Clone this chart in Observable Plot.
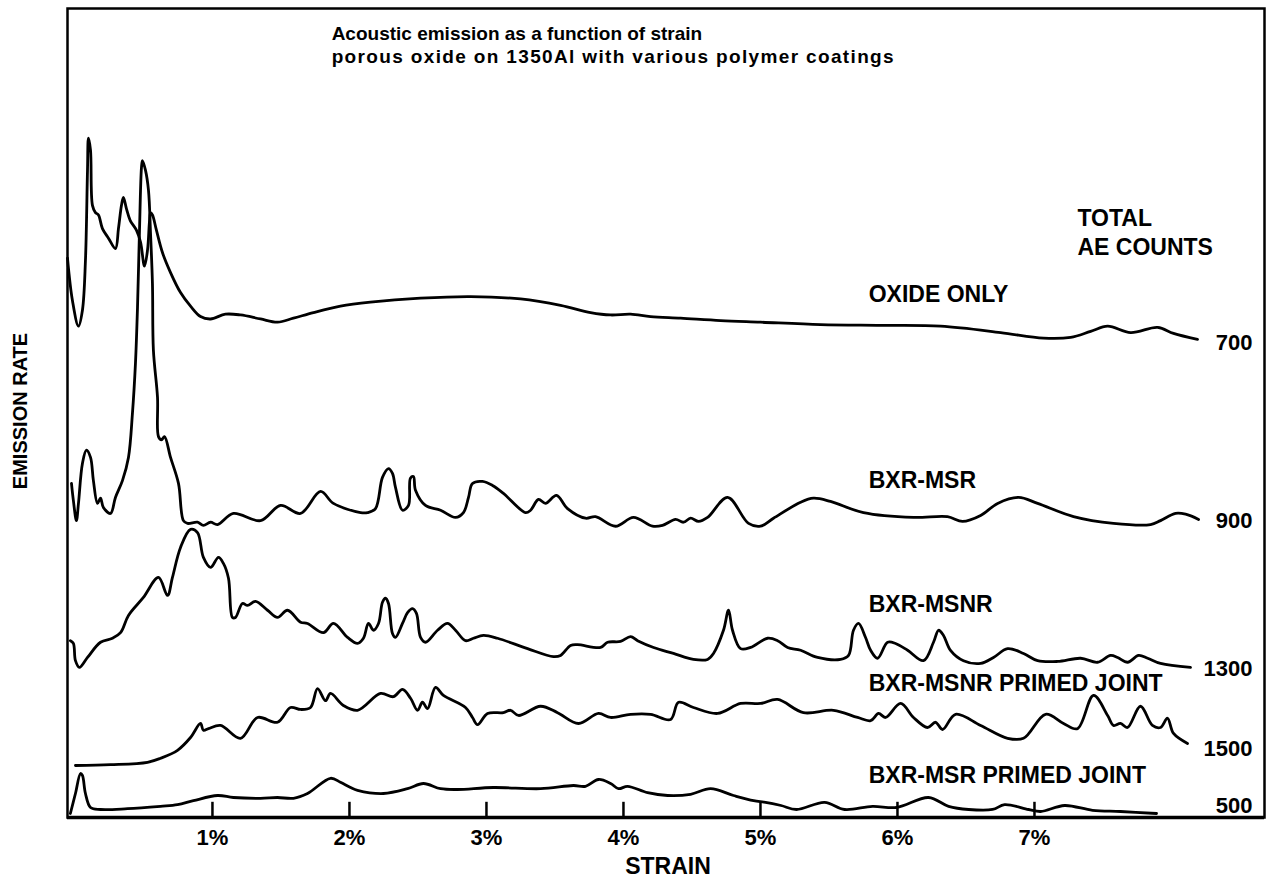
<!DOCTYPE html>
<html><head><meta charset="utf-8">
<script src="https://cdn.jsdelivr.net/npm/d3@7"></script>
<script src="https://cdn.jsdelivr.net/npm/@observablehq/plot@0.6"></script>
<style>body{margin:0;background:#fff}svg{display:block}</style>
</head><body><div id="chart"></div>
<script>
// Strain (%) ticks
const strainTicks = [1, 2, 3, 4, 5, 6, 7];

const titleLines = ["Acoustic emission as a function of strain", "porous oxide on 1350Al with various polymer coatings"];
const totalHeader = ["TOTAL", "AE COUNTS"];
const seriesNames = ["OXIDE ONLY", "BXR-MSR", "BXR-MSNR", "BXR-MSNR PRIMED JOINT", "BXR-MSR PRIMED JOINT"];
const totalCounts = [700, 900, 1300, 1500, 500];

// [strain %, emission rate (arbitrary, offset traces)]
const oxideOnly = [[-0.058,69.9],[-0.022,64.6],[0.022,61.4],[0.051,63.4],[0.073,69.6],[0.088,80.9],[0.095,84.9],[0.11,83.4],[0.124,76.5],[0.146,75.6],[0.168,75.3],[0.197,73.6],[0.241,72.4],[0.292,71.1],[0.314,73.6],[0.336,76.5],[0.35,77.5],[0.372,76.1],[0.40,74.6],[0.445,73.4],[0.475,71.9],[0.504,68.9],[0.526,70.9],[0.54,74.4],[0.548,75.6],[0.562,75.3],[0.591,73.4],[0.635,70.6],[0.694,68.1],[0.767,65.6],[0.84,63.9],[0.913,62.6],[0.986,62.3],[1.095,62.9],[1.205,62.8],[1.351,62.3],[1.475,61.9],[1.591,62.4],[1.737,63.1],[1.934,63.9],[2.153,64.4],[2.519,64.9],[2.884,65.1],[3.249,64.8],[3.541,64.0],[3.76,63.1],[3.906,62.8],[4.052,62.9],[4.198,62.6],[4.417,62.4],[4.709,62.1],[5.0,61.9],[5.439,61.6],[5.877,61.5],[6.315,61.4],[6.753,60.6],[7.066,59.9],[7.264,60.0],[7.41,60.75],[7.534,61.4],[7.702,60.6],[7.899,61.25],[8.015,60.5],[8.19,59.75]];

const bxrMsr = [[-0.029,41.75],[-0.015,39.6],[0.007,37.1],[0.022,39.25],[0.051,44.25],[0.080,45.9],[0.11,45.0],[0.131,42.1],[0.161,39.25],[0.183,39.9],[0.204,38.75],[0.256,38.0],[0.292,40.0],[0.343,42.1],[0.387,45.0],[0.416,50.5],[0.438,56.75],[0.453,63.75],[0.467,73.0],[0.482,81.25],[0.489,82.1],[0.511,80.9],[0.533,78.4],[0.548,73.0],[0.562,66.75],[0.569,58.4],[0.599,52.5],[0.606,47.6],[0.628,47.2],[0.650,47.6],[0.694,45.0],[0.752,41.75],[0.788,37.1],[0.818,36.75],[0.891,36.9],[0.934,36.5],[0.986,36.9],[1.037,36.6],[1.153,38.0],[1.351,37.1],[1.497,39.0],[1.643,38.0],[1.789,40.75],[1.883,39.25],[2.081,38.1],[2.132,38.1],[2.19,38.6],[2.241,42.5],[2.285,43.6],[2.314,43.0],[2.336,41.25],[2.387,38.4],[2.431,39.0],[2.445,42.4],[2.467,42.6],[2.482,40.9],[2.555,39.0],[2.665,38.4],[2.774,37.5],[2.832,38.1],[2.869,40.0],[2.898,41.75],[2.971,42.0],[3.044,41.5],[3.124,40.5],[3.285,38.1],[3.322,38.4],[3.38,39.75],[3.431,39.25],[3.511,40.25],[3.592,38.6],[3.723,37.4],[3.796,37.6],[3.942,36.4],[4.073,37.5],[4.212,36.4],[4.285,36.5],[4.38,37.25],[4.438,36.9],[4.49,37.4],[4.548,37.0],[4.614,37.5],[4.76,40.0],[4.913,36.75],[5.0,36.4],[5.095,37.4],[5.293,39.4],[5.387,39.9],[5.511,39.5],[5.752,38.1],[6.117,37.5],[6.365,37.6],[6.475,37.0],[6.607,37.75],[6.731,39.25],[6.884,40.0],[7.023,39.25],[7.285,37.6],[7.577,36.75],[7.847,36.6],[7.92,37.1],[8.03,38.0],[8.103,37.9],[8.198,37.25]];

const bxrMsnr = [[-0.037,22.1],[-0.015,21.75],[0.0,19.6],[0.029,18.75],[0.088,20.0],[0.183,21.9],[0.27,22.4],[0.329,23.1],[0.387,25.25],[0.496,27.5],[0.606,30.0],[0.672,27.75],[0.708,30.0],[0.767,33.75],[0.84,36.0],[0.891,35.6],[0.934,32.5],[0.986,31.25],[1.044,32.5],[1.08,31.75],[1.117,29.9],[1.146,25.0],[1.168,25.0],[1.219,26.75],[1.256,26.5],[1.314,27.0],[1.402,25.9],[1.475,25.0],[1.548,25.9],[1.643,24.4],[1.694,24.25],[1.81,23.1],[1.883,24.25],[1.986,22.5],[2.059,21.75],[2.102,22.4],[2.139,24.25],[2.175,23.4],[2.212,24.25],[2.241,26.9],[2.263,27.4],[2.285,26.75],[2.314,23.0],[2.336,22.5],[2.387,24.25],[2.424,25.6],[2.46,26.1],[2.489,25.5],[2.519,22.5],[2.555,21.9],[2.643,23.4],[2.716,24.25],[2.774,23.4],[2.847,22.1],[2.905,22.4],[2.978,22.75],[3.081,22.4],[3.30,21.1],[3.489,20.1],[3.541,20.25],[3.614,21.5],[3.665,21.6],[3.833,21.25],[3.884,21.9],[3.979,22.0],[4.052,22.6],[4.103,22.1],[4.22,21.25],[4.365,20.5],[4.511,19.75],[4.614,19.75],[4.657,20.5],[4.73,23.4],[4.767,25.9],[4.796,23.4],[4.855,21.1],[4.928,21.25],[5.052,22.4],[5.125,22.1],[5.198,21.25],[5.293,20.9],[5.417,20.0],[5.585,19.75],[5.643,20.25],[5.679,23.4],[5.716,24.25],[5.767,22.5],[5.804,20.9],[5.855,19.9],[5.928,21.9],[5.986,21.75],[6.074,20.9],[6.19,19.6],[6.263,21.9],[6.30,23.4],[6.336,22.75],[6.387,20.9],[6.482,19.6],[6.607,19.25],[6.701,20.0],[6.804,21.1],[6.92,20.5],[7.023,19.6],[7.169,19.5],[7.337,19.9],[7.46,19.4],[7.555,20.25],[7.607,20.0],[7.68,19.4],[7.76,20.25],[7.826,19.9],[7.92,19.25],[8.139,18.75]];

const bxrMsnrPrimed = [[0.0,6.5],[0.256,6.6],[0.526,6.9],[0.621,7.4],[0.745,8.4],[0.84,10.0],[0.913,11.75],[0.934,10.9],[0.971,11.1],[1.059,11.5],[1.205,9.9],[1.329,12.5],[1.475,11.9],[1.57,13.75],[1.643,13.5],[1.716,13.75],[1.767,16.1],[1.825,14.6],[1.862,15.5],[1.956,14.0],[2.059,13.4],[2.227,15.5],[2.321,15.1],[2.387,16.0],[2.446,14.9],[2.497,13.4],[2.533,14.4],[2.57,13.6],[2.628,16.25],[2.686,15.25],[2.847,13.75],[2.898,12.5],[2.935,11.6],[3.008,13.0],[3.124,13.1],[3.176,13.4],[3.234,12.75],[3.395,13.9],[3.519,13.1],[3.672,11.75],[3.818,13.0],[3.906,12.5],[4.052,12.9],[4.198,12.9],[4.344,12.25],[4.402,14.4],[4.511,13.75],[4.687,13.0],[4.855,14.25],[5.0,14.25],[5.125,14.75],[5.314,13.1],[5.533,13.4],[5.709,12.5],[5.804,12.1],[5.862,13.0],[5.913,12.5],[6.023,14.25],[6.117,12.5],[6.219,11.25],[6.278,11.9],[6.329,11.0],[6.424,12.9],[6.607,11.5],[6.804,9.9],[6.92,9.9],[7.081,12.9],[7.212,11.75],[7.314,11.1],[7.431,15.25],[7.534,12.75],[7.577,11.5],[7.628,11.75],[7.679,11.25],[7.774,13.9],[7.861,11.5],[7.92,11.25],[7.971,12.4],[8.015,10.5],[8.117,9.25]];

const bxrMsrPrimed = [[-0.037,0.5],[0.0,3.0],[0.037,5.5],[0.051,5.25],[0.073,3.0],[0.11,1.25],[0.183,1.0],[0.38,1.1],[0.621,1.4],[0.745,1.6],[0.861,2.1],[1.037,2.75],[1.153,2.5],[1.351,2.4],[1.475,2.5],[1.591,2.4],[1.694,3.0],[1.862,4.9],[1.934,4.4],[2.008,3.75],[2.059,3.4],[2.248,3.0],[2.424,3.6],[2.54,4.25],[2.665,3.6],[2.789,3.5],[3.051,3.75],[3.395,3.6],[3.635,4.0],[3.723,3.9],[3.818,4.75],[3.906,4.25],[3.964,3.6],[4.03,3.9],[4.176,3.1],[4.322,2.75],[4.49,2.9],[4.636,3.6],[4.803,2.75],[4.95,2.1],[5.037,1.9],[5.15,1.5],[5.263,1.0],[5.468,1.9],[5.614,1.0],[5.818,1.4],[5.993,1.25],[6.227,2.5],[6.373,1.4],[6.519,1.0],[6.694,1.0],[6.782,1.6],[6.957,1.0],[7.045,0.75],[7.22,1.5],[7.424,0.9],[7.628,0.75],[7.891,0.5]];

const traces = [oxideOnly, bxrMsr, bxrMsnr, bxrMsnrPrimed, bxrMsrPrimed];
const rows = traces.flatMap((t, i) => t.map(([strain, rate]) => ({series: seriesNames[i], strain, rate})));

// layout (data units) for the in-frame annotations
const labelRate = [65.4, 42.1, 26.6, 16.75, 5.25];
const countRate = [59.25, 37.0, 18.6, 8.6, 1.5];
const labelRows = seriesNames.map((name, i) => ({name, rate: labelRate[i]}));
const countRows = totalCounts.map((c, i) => ({c: String(c), rate: countRate[i]}));

const FONT = "'Liberation Sans', Arial, Helvetica, sans-serif";

const chart = Plot.plot({
  width: 1268, height: 882,
  marginLeft: 67, marginRight: 4, marginTop: 8, marginBottom: 65,
  x: {domain: [-0.058, 8.679], label: null},
  y: {domain: [0, 101.1], axis: null, label: null},
  style: {fontFamily: FONT, fontWeight: "bold", color: "black", background: "white", overflow: "visible"},
  marks: [
    Plot.frame({stroke: "black", strokeWidth: 2.5}),
    Plot.ruleY([0], {stroke: "black", strokeWidth: 3.5}),
    Plot.ruleX(strainTicks, {y1: 0, y2: 1.9, stroke: "black", strokeWidth: 2.5}),
    Plot.axisX(strainTicks, {tickSize: 0, tickPadding: 12, tickFormat: d => d + "%", fontSize: 22, label: null}),
    Plot.line(rows, {x: "strain", y: "rate", z: "series", curve: "catmull-rom", stroke: "black", strokeWidth: 2.8, strokeLinejoin: "round"}),
    Plot.text([titleLines[0]], {x: 1.87, y: 97.9, textAnchor: "start", fontSize: 19}),
    Plot.text([titleLines[1]], {x: 1.87, y: 95.0, textAnchor: "start", fontSize: 19}),
    Plot.text([totalHeader.join("\n")], {x: 7.314, y: 73.3, textAnchor: "start", lineAnchor: "middle", lineHeight: 1.3, fontSize: 23}),
    Plot.text(labelRows, {x: 5.79, y: "rate", text: "name", textAnchor: "start", fontSize: 23}),
    Plot.text(countRows, {x: 8.591, y: "rate", text: "c", textAnchor: "end", fontSize: 22}),
    Plot.text(["EMISSION RATE"], {frameAnchor: "left", textAnchor: "middle", rotate: -90, dx: -47, dy: -2, fontSize: 20}),
    Plot.text(["STRAIN"], {frameAnchor: "bottom", dy: 56, dx: 2, fontSize: 23})
  ]
});
// the second title line is more widely spaced in the original lettering
d3.select(chart).selectAll("text")
  .filter(function() { return this.textContent === titleLines[1]; })
  .attr("textLength", 562).attr("lengthAdjust", "spacing");
document.getElementById("chart").append(chart);
</script>
</body></html>
